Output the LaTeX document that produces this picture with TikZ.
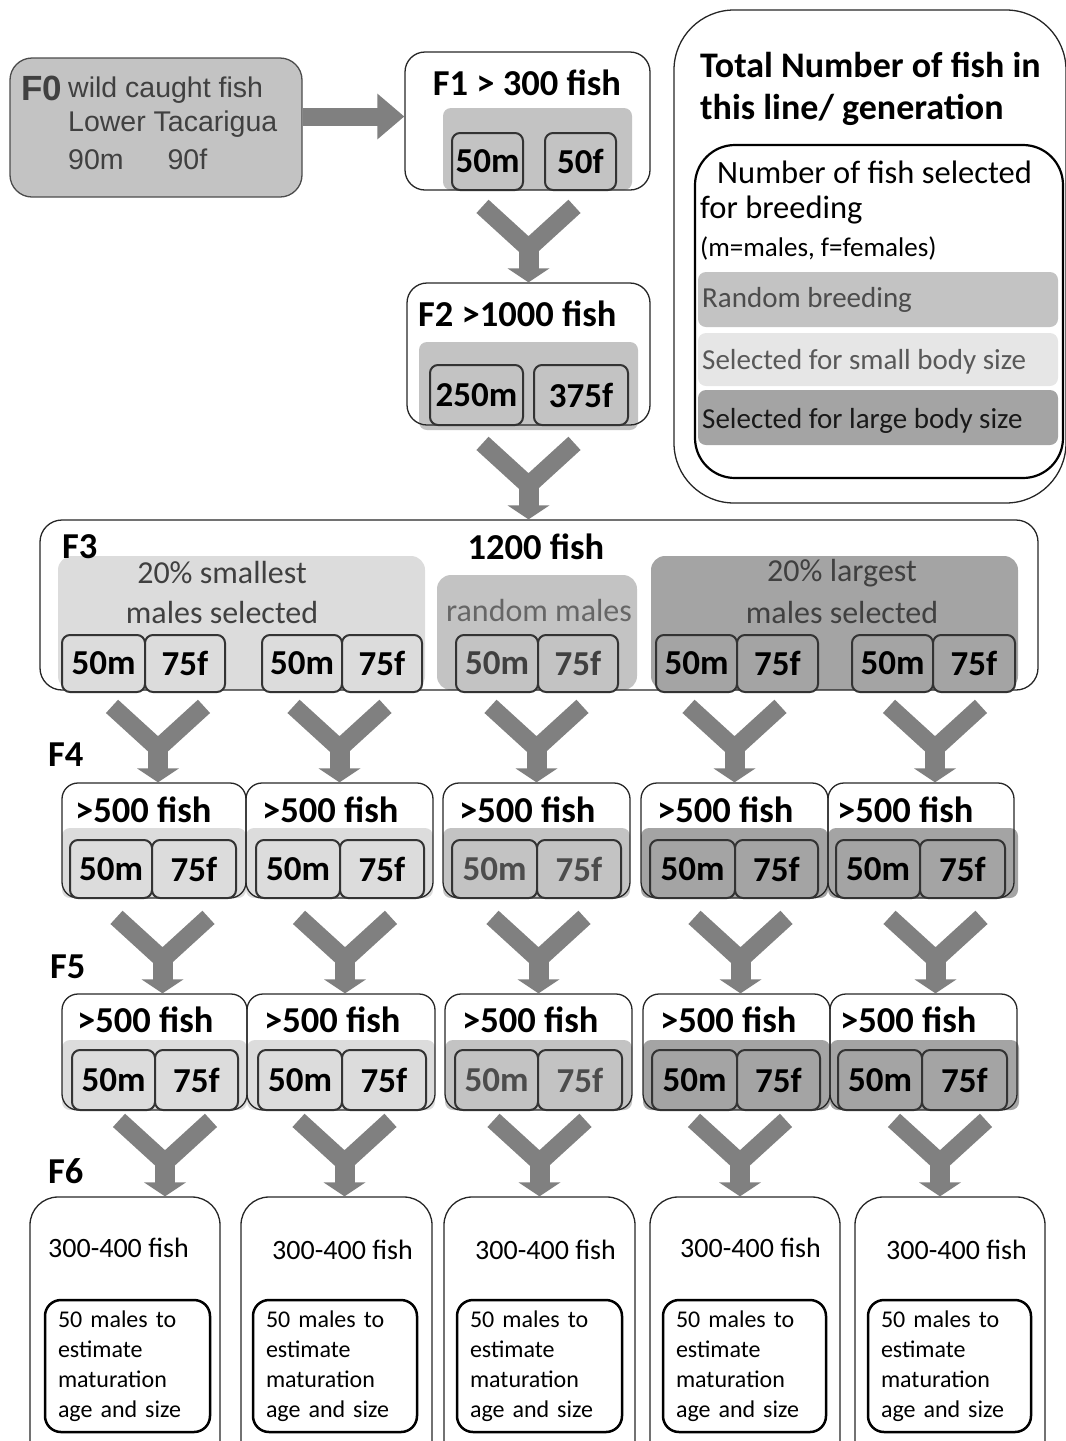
\documentclass[tikz,border=0pt]{standalone}
\usepackage{fontspec}
\setmainfont{Carlito}
\newfontfamily\arialfont{Liberation Sans}
\usetikzlibrary{arrows.meta}

\definecolor{arrowgray}{HTML}{808080}
\definecolor{smallgray}{HTML}{DCDCDC}
\definecolor{randgray}{HTML}{C3C3C3}
\definecolor{largegray}{HTML}{A4A4A4}
\definecolor{paleband}{HTML}{E6E6E6}
\definecolor{textgray}{HTML}{404040}

\tikzset{
  genbox/.style={draw=black!85, line width=1.3pt, rounded corners=16pt, inner sep=0pt},
  band/.style={rounded corners=8pt, inner sep=0pt},
  sexbox/.style={draw=black!80, line width=2pt, rounded corners=8pt, inner sep=0pt,
    font=\bfseries\fontsize{35}{38}\selectfont},
  gentitle/.style={inner sep=0pt, font=\bfseries\fontsize{36.5}{40}\selectfont},
  grouplabel/.style={inner sep=0pt, text=textgray, font=\fontsize{32}{36}\selectfont},
  f6title/.style={inner sep=0pt, font=\fontsize{28}{32}\selectfont},
  f6inner/.style={draw=black, line width=2.5pt, rounded corners=16pt, inner sep=0pt,
    align=left, minimum height=132, font=\fontsize{24}{30}\selectfont},
  ybranch/.pic={
    \draw[arrowgray, line width=18pt] (-46,-76) -- (0,-34) -- (46,-76);
    \fill[arrowgray] (-10,-42) rectangle (10,-13);
    \fill[arrowgray] (-21,-14) -- (0,0) -- (21,-14) -- cycle;
  }
}

\begin{document}
\begin{tikzpicture}[x=1pt, y=-1pt]

\useasboundingbox (0,0) rectangle (1066,1441);
\clip (0,0) rectangle (1066,1441);

% Wild caught parents
\node [genbox, fill=randgray, draw=black!70, rounded corners=22pt,
  minimum width=292, minimum height=139] (f0) at (156,127.5) {};
\node [inner sep=0pt, anchor=west, text=textgray, font=\arialfont\bfseries\fontsize{35}{38}\selectfont]
  (f0name) at (21,88) {F0};
\node [inner sep=0pt, anchor=west, text=textgray, font=\arialfont\fontsize{28.5}{32}\selectfont]
  (f0what) at (68,90) {wild caught fish};
\node [inner sep=0pt, anchor=west, text=textgray, font=\arialfont\fontsize{28.5}{32}\selectfont]
  (f0site) at (68,124) {Lower Tacarigua};
\node [inner sep=0pt, anchor=west, text=textgray, font=\arialfont\fontsize{28.5}{32}\selectfont]
  (f0sexes) at (68,159) {90m\hspace{44pt}90f};

% F1
\node [band, fill=randgray, minimum width=189, minimum height=82] (f1band) at (537.5,149) {};
\node [genbox, rounded corners=20pt, minimum width=245, minimum height=138] (f1) at (527.5,121) {};
\node [gentitle] (f1title) at (527,83) {F1 > 300 fish};
\node [sexbox, fill=randgray, minimum width=71, minimum height=57] (f1m) at (487.5,161.5) {50m};
\node [sexbox, fill=randgray, minimum width=71, minimum height=57] (f1f) at (580.5,161.5) {50f};

\draw [arrowgray, line width=18pt, -{Triangle[width=44pt, length=27pt]}]
  ([yshift=11]f0.east) -- ([yshift=11]f0.east -| f1.west);

% F2
\node [band, fill=randgray, minimum width=219, minimum height=88] (f2band) at (528.5,386) {};
\node [genbox, rounded corners=20pt, minimum width=243, minimum height=142] (f2) at (528.5,354) {};
\node [gentitle, anchor=west] (f2title) at (418,314) {F2 >1000 fish};
\node [sexbox, fill=randgray, minimum width=93, minimum height=60] (f2m) at (476.5,395) {250m};
\node [sexbox, fill=randgray, minimum width=94, minimum height=60] (f2f) at (581,395) {375f};

\pic at (f2.north) {ybranch};

% F3
\node [band, fill=smallgray, rounded corners=14pt, minimum width=367, minimum height=134] (f3small) at (241.5,623) {};
\node [band, fill=randgray, rounded corners=14pt, minimum width=200, minimum height=115] (f3rand) at (537,632.5) {};
\node [band, fill=largegray, rounded corners=14pt, minimum width=367, minimum height=134] (f3large) at (834.5,623) {};
\node [genbox, rounded corners=22pt, minimum width=998, minimum height=170] (f3) at (539,605) {};
\node [gentitle, anchor=west] (f3name) at (62,547) {F3};
\node [gentitle] (f3title) at (536,547) {1200 fish};
\node [grouplabel] (f3smalla) at (222,573) {20\% smallest};
\node [grouplabel] (f3smallb) at (222,612) {males selected};
\node [grouplabel, text=black!60] (f3randa) at (539,610) {random males};
\node [grouplabel] (f3largea) at (842,573) {20\% largest};
\node [grouplabel] (f3largeb) at (842,612) {males selected};

\node [sexbox, fill=smallgray, minimum width=83, minimum height=57] (f3am) at (103.5,663.5) {50m};
\node [sexbox, fill=smallgray, minimum width=80, minimum height=57] (f3af) at (185,663.5) {75f};
\node [sexbox, fill=smallgray, minimum width=80, minimum height=57] (f3bm) at (302,663.5) {50m};
\node [sexbox, fill=smallgray, minimum width=80, minimum height=57] (f3bf) at (382,663.5) {75f};
\node [sexbox, fill=randgray, text=black!75, minimum width=82, minimum height=57] (f3cm) at (497,663.5) {50m};
\node [sexbox, fill=randgray, text=black!75, minimum width=80, minimum height=57] (f3cf) at (578,663.5) {75f};
\node [sexbox, fill=largegray, minimum width=81, minimum height=57] (f3dm) at (696.5,663.5) {50m};
\node [sexbox, fill=largegray, minimum width=81, minimum height=57] (f3df) at (777.5,663.5) {75f};
\node [sexbox, fill=largegray, minimum width=81, minimum height=57] (f3em) at (892.5,663.5) {50m};
\node [sexbox, fill=largegray, minimum width=82, minimum height=57] (f3ef) at (974,663.5) {75f};

\pic at (f3.north -| f2.south) {ybranch};

% F4
\node [gentitle, anchor=west] (f4name) at (48,755) {F4};

\node [band, fill=smallgray, minimum width=184, minimum height=70] (f4aband) at (154,863) {};
\node [band, fill=smallgray, minimum width=187, minimum height=70] (f4bband) at (339.5,863) {};
\node [band, fill=randgray, minimum width=187, minimum height=70] (f4cband) at (536.5,863) {};
\node [band, fill=largegray, minimum width=187, minimum height=70] (f4dband) at (734.5,863) {};
\node [band, fill=largegray, minimum width=190, minimum height=70] (f4eband) at (923,863) {};

\node [genbox, minimum width=184, minimum height=115] (f4a) at (154,840.5) {};
\node [genbox, minimum width=187, minimum height=115] (f4b) at (339.5,840.5) {};
\node [genbox, minimum width=187, minimum height=115] (f4c) at (536.5,840.5) {};
\node [genbox, minimum width=187, minimum height=115] (f4d) at (734.5,840.5) {};
\node [genbox, minimum width=186, minimum height=115] (f4e) at (921,840.5) {};

\node [gentitle, anchor=west] (f4atitle) at (75,810) {>500 fish};
\node [gentitle, anchor=west] (f4btitle) at (262,810) {>500 fish};
\node [gentitle, anchor=west] (f4ctitle) at (459,810) {>500 fish};
\node [gentitle, anchor=west] (f4dtitle) at (657,810) {>500 fish};
\node [gentitle, anchor=west] (f4etitle) at (837,810) {>500 fish};

\node [sexbox, fill=smallgray, minimum width=82, minimum height=58] (f4am) at (111,869) {50m};
\node [sexbox, fill=smallgray, minimum width=84, minimum height=58] (f4af) at (194,869) {75f};
\node [sexbox, fill=smallgray, minimum width=84, minimum height=58] (f4bm) at (298,869) {50m};
\node [sexbox, fill=smallgray, minimum width=84, minimum height=58] (f4bf) at (382,869) {75f};
\node [sexbox, fill=randgray, text=black!70, minimum width=85, minimum height=58] (f4cm) at (494.5,869) {50m};
\node [sexbox, fill=randgray, text=black!70, minimum width=84, minimum height=58] (f4cf) at (579,869) {75f};
\node [sexbox, fill=largegray, minimum width=85, minimum height=58] (f4dm) at (692.5,869) {50m};
\node [sexbox, fill=largegray, minimum width=83, minimum height=58] (f4df) at (776.5,869) {75f};
\node [sexbox, fill=largegray, minimum width=84, minimum height=58] (f4em) at (878,869) {50m};
\node [sexbox, fill=largegray, minimum width=85, minimum height=58] (f4ef) at (962.5,869) {75f};

\pic at ([xshift=4]f4a.north) {ybranch};
\pic at (f4b.north) {ybranch};
\pic at (f4c.north) {ybranch};
\pic at (f4d.north) {ybranch};
\pic at ([xshift=14]f4e.north) {ybranch};

% F5
\node [gentitle, anchor=west] (f5name) at (50,967) {F5};

\node [band, fill=smallgray, minimum width=185, minimum height=70] (f5aband) at (154.5,1075) {};
\node [band, fill=smallgray, minimum width=188, minimum height=70] (f5bband) at (341,1075) {};
\node [band, fill=randgray, minimum width=187, minimum height=70] (f5cband) at (538.5,1075) {};
\node [band, fill=largegray, minimum width=187, minimum height=70] (f5dband) at (736.5,1075) {};
\node [band, fill=largegray, minimum width=189, minimum height=70] (f5eband) at (924.5,1075) {};

\node [genbox, minimum width=185, minimum height=116] (f5a) at (154.5,1052) {};
\node [genbox, minimum width=188, minimum height=116] (f5b) at (341,1052) {};
\node [genbox, minimum width=187, minimum height=116] (f5c) at (538.5,1052) {};
\node [genbox, minimum width=187, minimum height=116] (f5d) at (736.5,1052) {};
\node [genbox, minimum width=187, minimum height=116] (f5e) at (923.5,1052) {};

\node [gentitle, anchor=west] (f5atitle) at (77,1020) {>500 fish};
\node [gentitle, anchor=west] (f5btitle) at (264,1020) {>500 fish};
\node [gentitle, anchor=west] (f5ctitle) at (462,1020) {>500 fish};
\node [gentitle, anchor=west] (f5dtitle) at (660,1020) {>500 fish};
\node [gentitle, anchor=west] (f5etitle) at (840,1020) {>500 fish};

\node [sexbox, fill=smallgray, minimum width=83, minimum height=60] (f5am) at (113.5,1080) {50m};
\node [sexbox, fill=smallgray, minimum width=83, minimum height=60] (f5af) at (196.5,1080) {75f};
\node [sexbox, fill=smallgray, minimum width=84, minimum height=60] (f5bm) at (300,1080) {50m};
\node [sexbox, fill=smallgray, minimum width=84, minimum height=60] (f5bf) at (384,1080) {75f};
\node [sexbox, fill=randgray, text=black!70, minimum width=83, minimum height=60] (f5cm) at (496.5,1080) {50m};
\node [sexbox, fill=randgray, text=black!70, minimum width=84, minimum height=60] (f5cf) at (580,1080) {75f};
\node [sexbox, fill=largegray, minimum width=85, minimum height=60] (f5dm) at (694.5,1080) {50m};
\node [sexbox, fill=largegray, minimum width=83, minimum height=60] (f5df) at (778.5,1080) {75f};
\node [sexbox, fill=largegray, minimum width=84, minimum height=60] (f5em) at (880,1080) {50m};
\node [sexbox, fill=largegray, minimum width=85, minimum height=60] (f5ef) at (964.5,1080) {75f};

\pic at ([xshift=8]f5a.north) {ybranch};
\pic at ([xshift=4]f5b.north) {ybranch};
\pic at (f5c.north) {ybranch};
\pic at ([xshift=4]f5d.north) {ybranch};
\pic at ([xshift=12]f5e.north) {ybranch};

% F6
\node [gentitle, anchor=west] (f6name) at (48,1171) {F6};

\node [genbox, rounded corners=28pt, minimum width=190, minimum height=273] (f6a) at (125,1333.5) {};
\node [genbox, rounded corners=28pt, minimum width=191, minimum height=273] (f6b) at (336.5,1333.5) {};
\node [genbox, rounded corners=28pt, minimum width=191, minimum height=273] (f6c) at (539.5,1333.5) {};
\node [genbox, rounded corners=28pt, minimum width=190, minimum height=273] (f6d) at (745,1333.5) {};
\node [genbox, rounded corners=28pt, minimum width=190, minimum height=273] (f6e) at (950,1333.5) {};

\node [f6title, anchor=west] (f6atitle) at (48,1248) {300-400 fish};
\node [f6title, anchor=west] (f6btitle) at (272,1250) {300-400 fish};
\node [f6title, anchor=west] (f6ctitle) at (475,1250) {300-400 fish};
\node [f6title, anchor=west] (f6dtitle) at (680,1248) {300-400 fish};
\node [f6title, anchor=west] (f6etitle) at (886,1250) {300-400 fish};

\node [f6inner, minimum width=165, text width=139] (f6ain) at (127.5,1366)
  {50 males to\\estimate\\maturation\\age and size};
\node [f6inner, minimum width=164, text width=138] (f6bin) at (335,1366)
  {50 males to\\estimate\\maturation\\age and size};
\node [f6inner, minimum width=165, text width=139] (f6cin) at (539.5,1366)
  {50 males to\\estimate\\maturation\\age and size};
\node [f6inner, minimum width=163, text width=137] (f6din) at (744.5,1366)
  {50 males to\\estimate\\maturation\\age and size};
\node [f6inner, minimum width=163, text width=137] (f6ein) at (949.5,1366)
  {50 males to\\estimate\\maturation\\age and size};

\pic at ([xshift=40]f6a.north) {ybranch};
\pic at ([xshift=8]f6b.north) {ybranch};
\pic at (f6c.north) {ybranch};
\pic at ([xshift=-5]f6d.north) {ybranch};
\pic at ([xshift=-10]f6e.north) {ybranch};

% Key
\node [genbox, rounded corners=60pt, minimum width=392, minimum height=493] (key) at (870,256.5) {};
\node [gentitle, anchor=west, font=\bfseries\fontsize{36}{40}\selectfont] (keytitlea) at (700,65) {Total Number of fish in};
\node [gentitle, anchor=west, font=\bfseries\fontsize{36}{40}\selectfont] (keytitleb) at (700,110) {this line/ generation};

\node [band, fill=randgray, minimum width=360, minimum height=55] (keyrand) at (878,299.5) {};
\node [band, fill=paleband, minimum width=360, minimum height=53] (keysmall) at (878,359.5) {};
\node [band, fill=largegray, minimum width=360, minimum height=55] (keylarge) at (878,417.5) {};
\node [genbox, draw=black, line width=2.2pt, rounded corners=40pt, minimum width=368, minimum height=333] (keyinner) at (879,311.5) {};

\node [inner sep=0pt, anchor=west, font=\fontsize{32.5}{36}\selectfont] (keysela) at (717,172) {Number of fish selected};
\node [inner sep=0pt, anchor=west, font=\fontsize{32.5}{36}\selectfont] (keyselb) at (700,210) {for breeding};
\node [inner sep=0pt, anchor=west, font=\fontsize{27}{30}\selectfont] (keysexes) at (700,248) {(m=males, f=females)};
\node [inner sep=0pt, anchor=west, text=black!70, font=\fontsize{29}{32}\selectfont] (keyrandtext) at (702,300) {Random breeding};
\node [inner sep=0pt, anchor=west, text=black!65, font=\fontsize{29}{32}\selectfont] (keysmalltext) at (702,362) {Selected for small body size};
\node [inner sep=0pt, anchor=west, text=black!90, font=\fontsize{29}{32}\selectfont] (keylargetext) at (702,421) {Selected for large body size};

\end{tikzpicture}
\end{document}
